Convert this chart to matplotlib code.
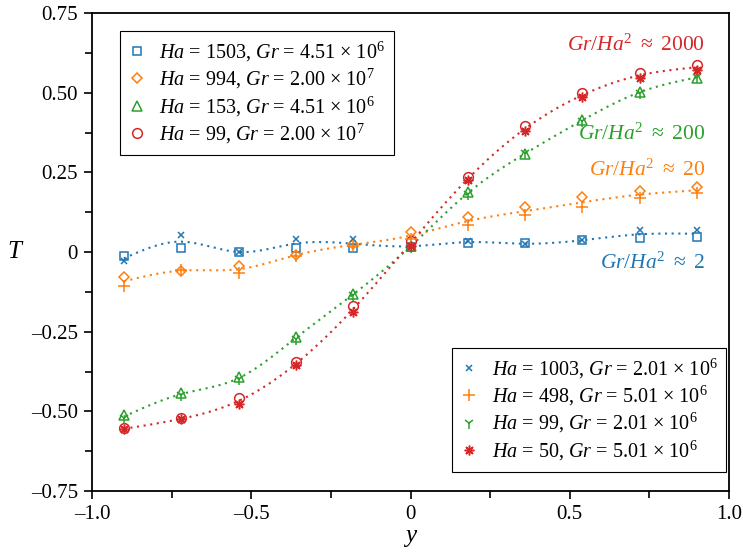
import numpy as np
import matplotlib
matplotlib.use("Agg")
import matplotlib.pyplot as plt
from matplotlib.ticker import MultipleLocator, FuncFormatter

plt.rcParams['font.family'] = ['Liberation Serif', 'DejaVu Serif']
plt.rcParams['mathtext.fontset'] = 'custom'
plt.rcParams['mathtext.rm'] = 'Liberation Serif'
plt.rcParams['mathtext.it'] = 'Liberation Serif:italic'
plt.rcParams['mathtext.bf'] = 'Liberation Serif:bold'

y_pos = [-0.9, -0.72, -0.54, -0.36, -0.18, 0.0, 0.18, 0.36, 0.54, 0.72, 0.9]

# group 1 (open markers)
T_1503 = [-0.012, 0.012, 0.0, 0.013, 0.012, 0.016, 0.028, 0.027, 0.037, 0.043, 0.046]
T_994 = [-0.078, -0.059, -0.043, -0.008, 0.025, 0.063, 0.11, 0.14, 0.172, 0.19, 0.203]
T_153 = [-0.513, -0.442, -0.392, -0.267, -0.131, 0.02, 0.188, 0.308, 0.415, 0.503, 0.546]
T_99a = [-0.553, -0.522, -0.457, -0.346, -0.171, 0.036, 0.234, 0.394, 0.5, 0.562, 0.588]

# group 2
T_1003 = [-0.028, 0.053, 0.0, 0.04, 0.04, 0.02, 0.034, 0.025, 0.037, 0.068, 0.068]
T_498 = [-0.106, -0.058, -0.065, -0.012, 0.02, 0.04, 0.084, 0.116, 0.14, 0.17, 0.184]
T_99b = [-0.52, -0.45, -0.40, -0.272, -0.135, 0.015, 0.182, 0.31, 0.412, 0.5, 0.55]
T_50 = [-0.557, -0.525, -0.478, -0.356, -0.187, 0.02, 0.225, 0.38, 0.485, 0.547, 0.572]

labels1 = [r'$Ha$ = 1503, $Gr$ = 4.51 × 10$^6$',
           r'$Ha$ = 994, $Gr$ = 2.00 × 10$^7$',
           r'$Ha$ = 153, $Gr$ = 4.51 × 10$^6$',
           r'$Ha$ = 99, $Gr$ = 2.00 × 10$^7$']
labels2 = [r'$Ha$ = 1003, $Gr$ = 2.01 × 10$^6$',
           r'$Ha$ = 498, $Gr$ = 5.01 × 10$^6$',
           r'$Ha$ = 99, $Gr$ = 2.01 × 10$^6$',
           r'$Ha$ = 50, $Gr$ = 5.01 × 10$^6$']
ratio_labels = [r'$Gr/Ha^2$ $\approx$ 2', r'$Gr/Ha^2$ $\approx$ 20',
                r'$Gr/Ha^2$ $\approx$ 200', r'$Gr/Ha^2$ $\approx$ 2000']
ratio_T = [-0.035, 0.257, 0.37, 0.65]

colors = ['#1f77b4', '#ff7f0e', '#2ca02c', '#d62728']


def natural_spline(x, y, xs):
    x = np.asarray(x, float); y = np.asarray(y, float)
    n = len(x)
    h = np.diff(x)
    A = np.zeros((n, n)); b = np.zeros(n)
    A[0, 0] = A[-1, -1] = 1
    for i in range(1, n - 1):
        A[i, i - 1] = h[i - 1]; A[i, i] = 2 * (h[i - 1] + h[i]); A[i, i + 1] = h[i]
        b[i] = 3 * ((y[i + 1] - y[i]) / h[i] - (y[i] - y[i - 1]) / h[i - 1])
    c = np.linalg.solve(A, b)
    out = np.empty_like(xs)
    for k, xv in enumerate(xs):
        i = min(max(np.searchsorted(x, xv) - 1, 0), n - 2)
        dx = xv - x[i]
        bi = (y[i + 1] - y[i]) / h[i] - h[i] * (2 * c[i] + c[i + 1]) / 3
        di = (c[i + 1] - c[i]) / (3 * h[i])
        out[k] = y[i] + bi * dx + c[i] * dx ** 2 + di * dx ** 3
    return out


fig = plt.figure(figsize=(7.43, 5.59), dpi=100)
ax = fig.add_axes([92 / 743, 68 / 559, 637 / 743, 478 / 559])

g1 = [T_1503, T_994, T_153, T_99a]
g2 = [T_1003, T_498, T_99b, T_50]
m1 = ['s', 'D', '^', 'o']
ms1 = [6, 5, 6.5, 7]
m2 = ['x', '+', '1', (8, 2, 0)]
ms2 = [5, 8, 8, 7]

xs = np.linspace(y_pos[0], y_pos[-1], 300)
for a, b2, c in zip(g1, g2, colors):
    mean = (np.array(a) + np.array(b2)) / 2
    ax.plot(xs, natural_spline(y_pos, mean, xs), ls=(0, (1, 2.2)), lw=1.5, color=c, zorder=1)

h1 = []
for vals, mk, ms, c, lab in zip(g1, m1, ms1, colors, labels1):
    h, = ax.plot(y_pos, vals, ls='none', marker=mk, ms=ms, mfc='none', mec=c, mew=1.1, label=lab, zorder=3)
    h1.append(h)
h2 = []
for vals, mk, ms, c, lab in zip(g2, m2, ms2, colors, labels2):
    h, = ax.plot(y_pos, vals, ls='none', marker=mk, ms=ms, color=c, mew=1.1, label=lab, zorder=3)
    h2.append(h)

leg_kw = dict(fontsize=14.5, frameon=True, fancybox=False, edgecolor='black', framealpha=1,
              handlelength=0.8, handletextpad=0.7, labelspacing=0.16, borderpad=0.45, borderaxespad=0)
leg1 = ax.legend(handles=h1, loc='upper left', bbox_to_anchor=(0.044, 0.963), **leg_kw)
leg1.get_frame().set_linewidth(0.8)
ax.add_artist(leg1)
leg2 = ax.legend(handles=h2, loc='lower right', bbox_to_anchor=(0.996, 0.04), **leg_kw)
leg2.get_frame().set_linewidth(0.8)

for lab, t, c in zip(ratio_labels, ratio_T, colors):
    ax.text(0.925, t, lab, color=c, ha='right', va='center', fontsize=15.5)

ax.set_xlim(-1, 1)
ax.set_ylim(-0.75, 0.75)
ax.xaxis.set_major_locator(MultipleLocator(0.5))
ax.xaxis.set_minor_locator(MultipleLocator(0.25))
ax.yaxis.set_major_locator(MultipleLocator(0.25))
ax.yaxis.set_minor_locator(MultipleLocator(0.125))


def fmt_x(v, pos):
    if abs(v) < 1e-9:
        return '0'
    s = f'{abs(v):.1f}'
    return ('–' if v < 0 else '') + s


def fmt_y(v, pos):
    if abs(v) < 1e-9:
        return '0'
    s = f'{abs(v):.2f}'
    return ('–' if v < 0 else '') + s


ax.xaxis.set_major_formatter(FuncFormatter(fmt_x))
ax.yaxis.set_major_formatter(FuncFormatter(fmt_y))
ax.tick_params(which='major', direction='out', length=6, width=1.2, labelsize=15, pad=4)
ax.tick_params(which='minor', direction='out', length=5, width=1.2)
ax.tick_params(top=False, right=False, which='both')
for sp in ax.spines.values():
    sp.set_linewidth(1.3)

ax.set_xlabel(r'$y$', fontsize=18, labelpad=2)
ax.set_ylabel(r'$T$', fontsize=18, rotation=0, va='center', ha='center')
ax.yaxis.set_label_coords(-0.12, 0.5)

fig.savefig('out.png', dpi=100)
